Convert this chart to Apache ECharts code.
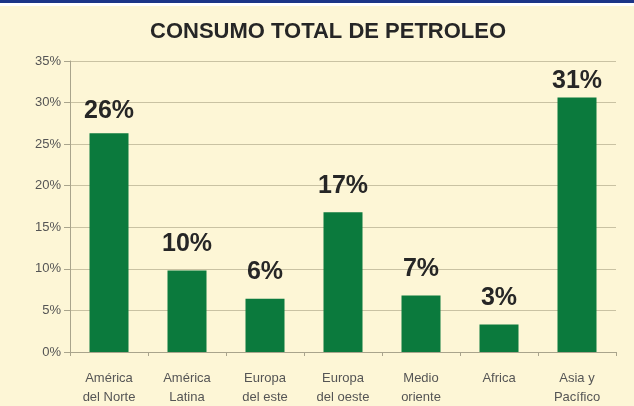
<!DOCTYPE html>
<html>
<head>
<meta charset="utf-8">
<script src="https://cdn.jsdelivr.net/npm/echarts@6/dist/echarts.min.js"></script>
<style>
  html, body { margin: 0; padding: 0; background: #ffffff; }
  #topbar { position: absolute; left: 0; top: 0; width: 634px; height: 3px; background: #1c3587; }
  #frame { position: absolute; left: 0; top: 6px; width: 634px; height: 400px; background: #fdf6d6; }
  #chart { position: absolute; left: 0; top: 0; width: 634px; height: 406px; }
</style>
</head>
<body>
<div id="topbar"></div>
<div id="frame"></div>
<div id="chart"></div>
<script>
// Regions and their share of total oil consumption (%)
const regions = [
  'América\ndel Norte', 'América\nLatina', 'Europa\ndel este', 'Europa\ndel oeste',
  'Medio\noriente', 'Africa', 'Asia y\nPacífico'
];
const shares = [26.3, 9.8, 6.4, 16.8, 6.8, 3.3, 30.6];
const yTicks = [0, 5, 10, 15, 20, 25, 30, 35];

// tall bars sit close to the top, so their labels hug the bar more tightly
const labelGap = [10, 14, 14, 14, 14, 14, 4];

const chart = echarts.init(document.getElementById('chart'), null, { renderer: 'canvas' });
chart.setOption({
  backgroundColor: 'transparent',
  animation: false,
  title: {
    text: 'CONSUMO TOTAL DE PETROLEO',
    left: 145,
    top: 16,
    textStyle: { fontFamily: 'Liberation Sans, Arial, sans-serif', fontSize: 22, fontWeight: 'bold', color: '#262626' }
  },
  grid: { left: 70, right: 18, top: 61, bottom: 54, containLabel: false, outerBoundsMode: 'none' },
  xAxis: {
    type: 'category',
    data: regions,
    axisLine: { lineStyle: { color: '#a9a48c', width: 1 } },
    axisTick: { show: true, length: 4, lineStyle: { color: '#a9a48c' } },
    axisLabel: {
      color: '#555555', fontSize: 13, lineHeight: 19, margin: 17,
      fontFamily: 'Liberation Sans, Arial, sans-serif', interval: 0
    }
  },
  yAxis: {
    type: 'value',
    min: yTicks[0],
    max: yTicks[yTicks.length - 1],
    interval: 5,
    axisLine: { show: true, lineStyle: { color: '#a9a48c', width: 1 } },
    axisTick: { show: true, length: 6, lineStyle: { color: '#a9a48c' } },
    splitLine: { lineStyle: { color: '#c9c2a3', width: 1 } },
    axisLabel: {
      color: '#555555', fontSize: 13, margin: 9,
      fontFamily: 'Liberation Sans, Arial, sans-serif',
      formatter: v => v + '%'
    }
  },
  series: [{
    type: 'bar',
    data: shares.map((v, i) => ({ value: v, label: { distance: labelGap[i] } })),
    barWidth: '50%',
    itemStyle: { color: '#0b7a3d' },
    label: {
      show: true,
      position: 'top',
      color: '#262626',
      fontSize: 25,
      fontWeight: 'bold',
      fontFamily: 'Liberation Sans, Arial, sans-serif',
      formatter: p => Math.round(p.value) + '%'
    }
  }]
});
</script>
</body>
</html>
